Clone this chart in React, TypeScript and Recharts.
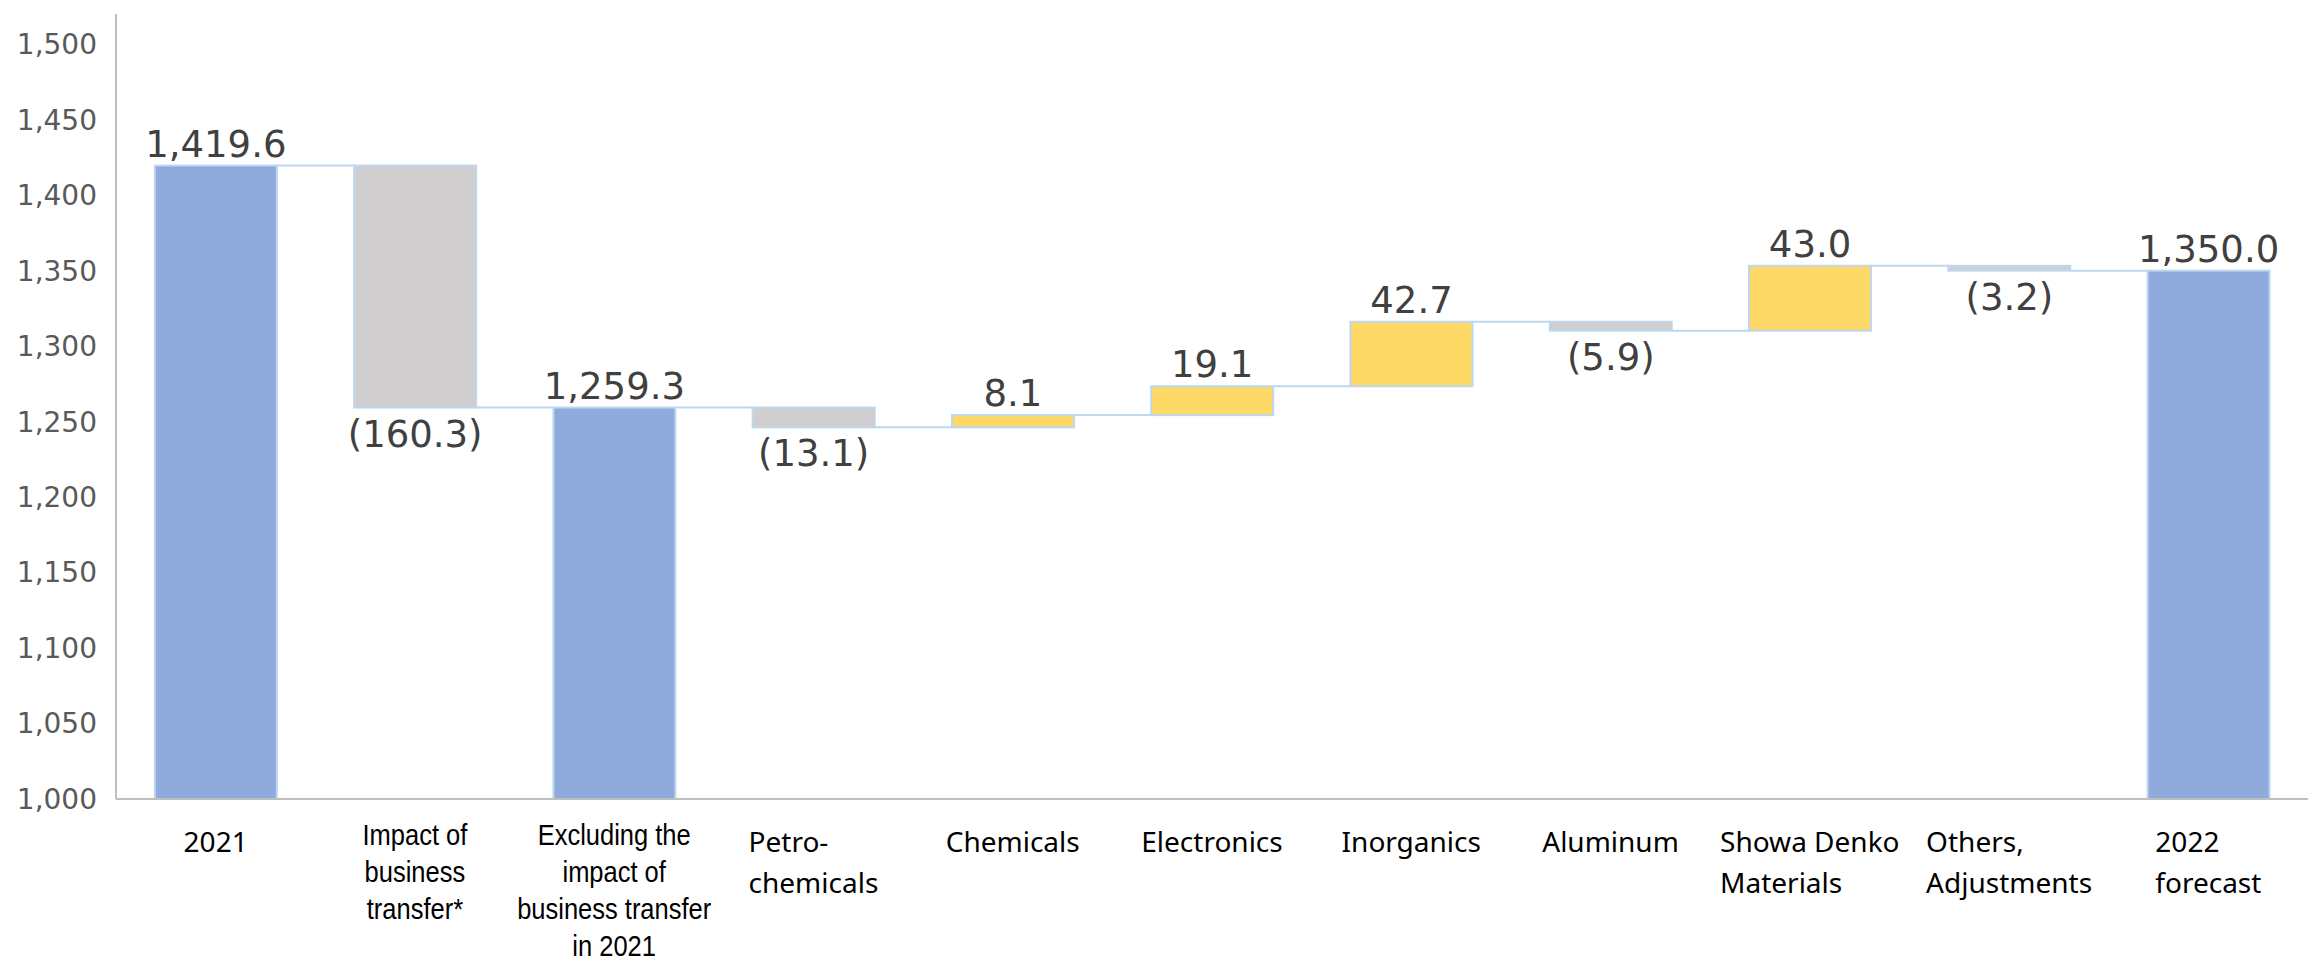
import React from 'react';
import { BarChart, Bar, XAxis, YAxis, LabelList } from 'recharts';

// waterfall: net sales bridge 2021 -> 2022 forecast
const categories = [
  '2021',
  'Impact of business transfer*',
  'Excluding the impact of business transfer in 2021',
  'Petro-chemicals',
  'Chemicals',
  'Electronics',
  'Inorganics',
  'Aluminum',
  'Showa Denko Materials',
  'Others, Adjustments',
  '2022 forecast',
];
const tickLines = [
  ['2021'],
  ['Impact of', 'business', 'transfer*'],
  ['Excluding the', 'impact of', 'business transfer', 'in 2021'],
  ['Petro-', 'chemicals'],
  ['Chemicals'],
  ['Electronics'],
  ['Inorganics'],
  ['Aluminum'],
  ['Showa Denko', 'Materials'],
  ['Others,', 'Adjustments'],
  ['2022', 'forecast'],
];
const kinds = ['total', 'delta', 'total', 'delta', 'delta', 'delta', 'delta', 'delta', 'delta', 'delta', 'total'];
const values = [1419.6, -160.3, 1259.3, -13.1, 8.1, 19.1, 42.7, -5.9, 43.0, -3.2, 1350.0];
const narrowTicks = [1, 2];
const yTicks = [1000, 1050, 1100, 1150, 1200, 1250, 1300, 1350, 1400, 1450, 1500];
const yMin = 1000;
const yMax = 1520;

const BLUE = '#8faadc';
const GREY = '#d0cece';
const YELLOW = '#ffd966';
const EDGE = '#bdd7ee';
const GAP = 0.195;

let level = 0;
const data = categories.map((name, i) => {
  const v = values[i];
  let range: [number, number];
  let end: number;
  if (kinds[i] === 'total') {
    range = [yMin, v];
    end = v;
  } else {
    range = v >= 0 ? [level, level + v] : [level + v, level];
    end = level + v;
  }
  level = end;
  return { name, kind: kinds[i], value: v, range, end };
});

const fmtTotal = (v: number) =>
  v.toLocaleString('en-US', { minimumFractionDigits: 1, maximumFractionDigits: 1 });
const fmtDelta = (v: number) => (v < 0 ? `(${Math.abs(v).toFixed(1)})` : v.toFixed(1));

let ctx: CanvasRenderingContext2D | null = null;
const textWidth = (s: string, font: string) => {
  if (!ctx) ctx = document.createElement('canvas').getContext('2d');
  if (!ctx) return s.length * 14;
  ctx.font = font;
  return ctx.measureText(s).width;
};

const WaterfallBar = (props: any) => {
  const { x, y, width, height, index } = props;
  const row = data[index];
  const top = Math.min(y, y + height);
  const h = Math.abs(height);
  const fill = row.kind === 'total' ? BLUE : row.value < 0 ? GREY : YELLOW;
  const levelY = row.kind === 'delta' && row.value < 0 ? top + h : top;
  const gap = (width * 2 * GAP) / (1 - 2 * GAP);
  return (
    <g>
      <rect x={x} y={top} width={width} height={h} fill={fill} stroke={EDGE} strokeWidth={2} />
      {index < data.length - 1 && (
        <line x1={x + width} x2={x + width + gap} y1={levelY} y2={levelY} stroke={EDGE} strokeWidth={2} />
      )}
    </g>
  );
};

const ValueLabel = (props: any) => {
  const { x, y, width, height, index } = props;
  const row = data[index];
  const top = Math.min(y, y + height);
  const bottom = top + Math.abs(height);
  const below = row.kind === 'delta' && row.value < 0;
  const text = row.kind === 'total' ? fmtTotal(row.value) : fmtDelta(row.value);
  return (
    <text
      x={x + width / 2}
      y={below ? bottom + 39 : top - 9}
      textAnchor="middle"
      fontSize={37}
      fontFamily="'DejaVu Sans', Verdana, sans-serif"
      fill="#404040"
    >
      {text}
    </text>
  );
};

const CategoryTick = (props: any) => {
  const { x, y, payload } = props;
  const i = payload.index;
  const lines = tickLines[i];
  if (narrowTicks.includes(i)) {
    // Arial Narrow look: squeeze Liberation Sans horizontally
    return (
      <text
        textAnchor="middle"
        fontSize={30}
        fontFamily="'Liberation Sans', Arial, sans-serif"
        fill="#000"
        transform={`translate(${x},0) scale(0.85,1) translate(${-x},0)`}
      >
        {lines.map((l, k) => (
          <tspan key={k} x={x} y={y + 46 + k * 37}>
            {l}
          </tspan>
        ))}
      </text>
    );
  }
  const font = "28px 'Noto Sans'";
  const w = Math.max(...lines.map((l) => textWidth(l, font)));
  return (
    <text textAnchor="start" fontSize={28} fontFamily="'Noto Sans', sans-serif" fill="#000">
      {lines.map((l, k) => (
        <tspan key={k} x={x - w / 2} y={y + 53 + k * 41}>
          {l}
        </tspan>
      ))}
    </text>
  );
};

export default function App() {
  return (
    <div style={{ position: 'absolute', left: 0, top: 0, background: '#fff' }}>
      <BarChart
        width={2315}
        height={964}
        data={data}
        margin={{ top: 14, right: 7, bottom: 5, left: 36 }}
        barCategoryGap={`${GAP * 100}%`}
      >
        <XAxis
          dataKey="name"
          interval={0}
          tickLine={false}
          tickSize={0}
          tickMargin={0}
          axisLine={{ stroke: '#bfbfbf', strokeWidth: 2 }}
          tick={<CategoryTick />}
          height={160}
        />
        <YAxis
          domain={[yMin, yMax]}
          ticks={yTicks}
          allowDataOverflow
          width={80}
          tickLine={false}
          tickSize={6}
          tickMargin={13}
          axisLine={{ stroke: '#bfbfbf', strokeWidth: 2 }}
          tick={{ fontSize: 28, fill: '#595959', fontFamily: "'DejaVu Sans', Verdana, sans-serif" }}
          tickFormatter={(v: number) => v.toLocaleString('en-US')}
        />
        <Bar dataKey="range" shape={<WaterfallBar />} isAnimationActive={false}>
          <LabelList dataKey="range" content={<ValueLabel />} />
        </Bar>
      </BarChart>
    </div>
  );
}
